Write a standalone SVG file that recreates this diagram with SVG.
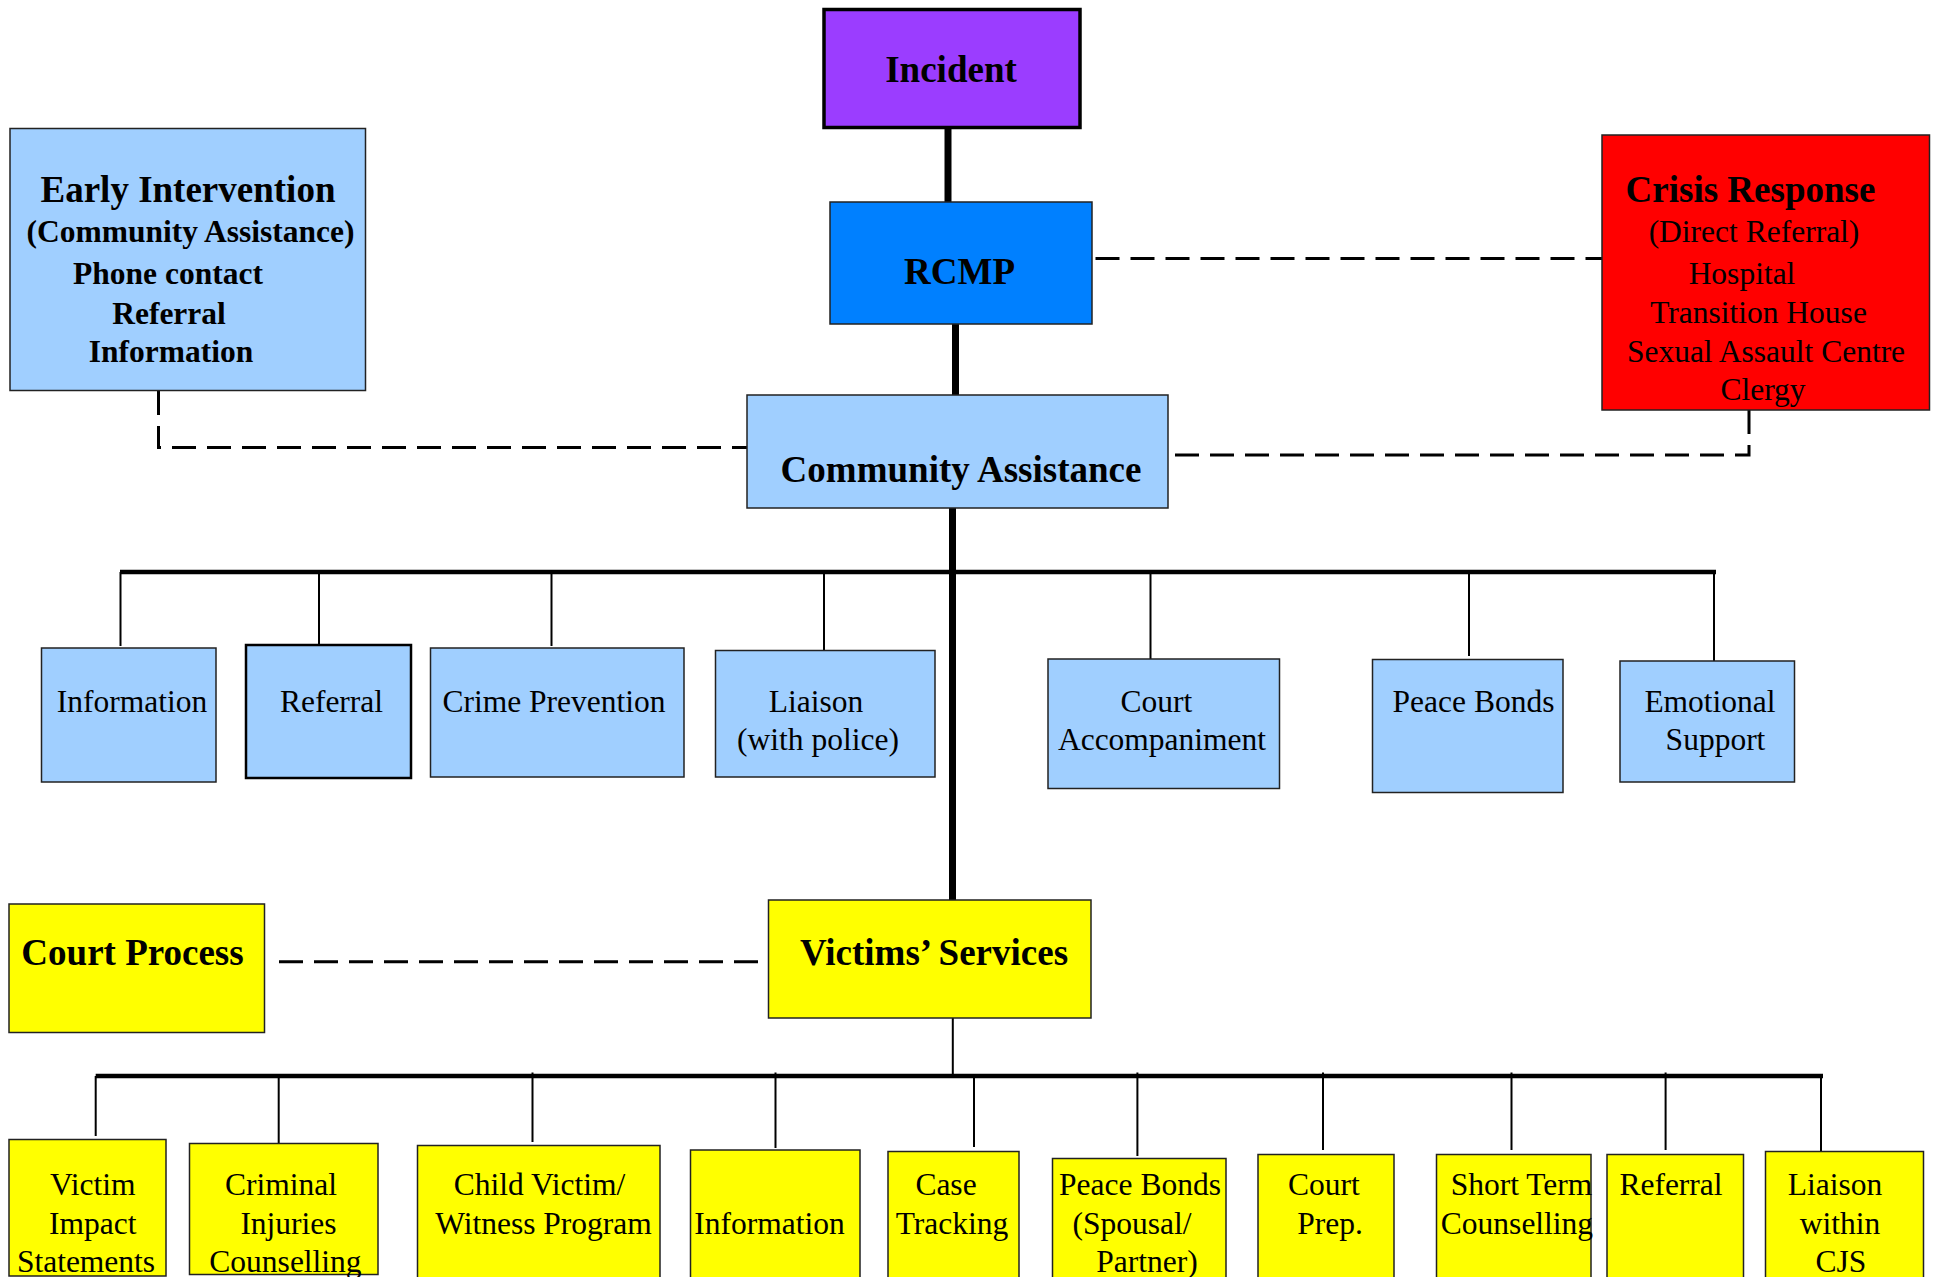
<svg xmlns="http://www.w3.org/2000/svg" width="1936" height="1277" viewBox="0 0 1936 1277">
<style>
rect{stroke:#222;stroke-width:1.5}
.lb{fill:#A0CFFF}
.yl{fill:#FFFF00}
text{font-family:"Liberation Serif","Times New Roman",serif;fill:#000;text-anchor:middle}
.t{font-size:31.5px}
.b{font-size:37px;font-weight:bold}
.bs{font-size:31.5px;font-weight:bold}
.thick{stroke:#000;stroke-width:7;fill:none}
.bus{stroke:#000;stroke-width:4.5;fill:none}
.thin{stroke:#000;stroke-width:2;fill:none}
.dash{stroke:#000;stroke-width:3;fill:none;stroke-dasharray:24 11}
</style>
<rect width="1936" height="1277" fill="#fff" style="stroke:none"/>
<g id="connectors">
<line class="thick" x1="948" y1="127" x2="948" y2="202"/>
<line class="thick" x1="955.5" y1="323" x2="955.5" y2="396"/>
<line class="thick" x1="952.5" y1="508" x2="952.5" y2="900"/>
<line class="bus" x1="120" y1="572" x2="1716" y2="572"/>
<line class="thin" x1="120.5" y1="572" x2="120.5" y2="646"/>
<line class="thin" x1="319" y1="572" x2="319" y2="645"/>
<line class="thin" x1="551.5" y1="572" x2="551.5" y2="646"/>
<line class="thin" x1="824" y1="572" x2="824" y2="651"/>
<line class="thin" x1="1150.5" y1="572" x2="1150.5" y2="659"/>
<line class="thin" x1="1469" y1="572" x2="1469" y2="656"/>
<line class="thin" x1="1714" y1="572" x2="1714" y2="661"/>
<line class="thin" x1="952.8" y1="1018" x2="952.8" y2="1076"/>
<line class="bus" x1="95.7" y1="1076" x2="1823" y2="1076"/>
<line class="thin" x1="95.7" y1="1076" x2="95.7" y2="1136"/>
<line class="thin" x1="278.7" y1="1076" x2="278.7" y2="1143"/>
<line class="thin" x1="532.5" y1="1072.5" x2="532.5" y2="1142"/>
<line class="thin" x1="775.5" y1="1072.5" x2="775.5" y2="1148"/>
<line class="thin" x1="974" y1="1076" x2="974" y2="1147"/>
<line class="thin" x1="1137.4" y1="1072.5" x2="1137.4" y2="1156"/>
<line class="thin" x1="1323" y1="1072.5" x2="1323" y2="1150"/>
<line class="thin" x1="1511.5" y1="1072.5" x2="1511.5" y2="1150"/>
<line class="thin" x1="1665.6" y1="1072.5" x2="1665.6" y2="1150"/>
<line class="thin" x1="1821" y1="1076" x2="1821" y2="1151"/>
<path class="dash" d="M158.5 391 V447.5 H747"/>
<path class="dash" d="M1095.5 258.5 H1602"/>
<path class="dash" d="M1749 410 V455 H1171"/>
<path class="dash" d="M279 961.7 H766"/>
</g>
<g id="incident">
<rect x="824" y="9.5" width="256" height="118" fill="#9B3DFF" style="stroke:#000;stroke-width:3.5"/>
<text class="b" x="951" y="82">Incident</text>
</g>
<g id="rcmp">
<rect x="830" y="202" width="262" height="122" fill="#0080FF"/>
<text class="b" x="959.5" y="284">RCMP</text>
</g>
<g id="early-intervention">
<rect class="lb" x="10" y="128.5" width="355.5" height="262"/>
<text class="b" x="188" y="202">Early Intervention</text>
<text class="bs" x="190.5" y="242">(Community Assistance)</text>
<text class="bs" x="168" y="284">Phone contact</text>
<text class="bs" x="169" y="323.5">Referral</text>
<text class="bs" x="171" y="362">Information</text>
</g>
<g id="crisis-response">
<rect x="1602" y="135" width="327.5" height="275" fill="#FF0000"/>
<text class="b" x="1750.5" y="202">Crisis Response</text>
<text class="t" x="1754" y="242">(Direct Referral)</text>
<text class="t" x="1742" y="284">Hospital</text>
<text class="t" x="1758.5" y="323">Transition House</text>
<text class="t" x="1766" y="362">Sexual Assault Centre</text>
<text class="t" x="1763" y="400">Clergy</text>
</g>
<g id="community-assistance">
<rect class="lb" x="747" y="395" width="421" height="113"/>
<text class="b" x="961" y="482">Community Assistance</text>
</g>
<g id="ca-information">
<rect class="lb" x="41.5" y="648" width="174.5" height="134"/>
<text class="t" x="132" y="712">Information</text>
</g>
<g id="ca-referral">
<rect class="lb" x="246" y="645" width="165" height="133" style="stroke:#000;stroke-width:2.5"/>
<text class="t" x="331.5" y="712">Referral</text>
</g>
<g id="ca-crime-prevention">
<rect class="lb" x="430.5" y="648" width="253.5" height="129"/>
<text class="t" x="554" y="712">Crime Prevention</text>
</g>
<g id="ca-liaison">
<rect class="lb" x="715.5" y="650.5" width="219.5" height="126.5"/>
<text class="t" x="816" y="712">Liaison</text>
<text class="t" x="818" y="750">(with police)</text>
</g>
<g id="ca-court-accompaniment">
<rect class="lb" x="1048" y="659" width="231.5" height="129.5"/>
<text class="t" x="1156.5" y="712">Court</text>
<text class="t" x="1162" y="750">Accompaniment</text>
</g>
<g id="ca-peace-bonds">
<rect class="lb" x="1372.5" y="659.5" width="190.5" height="133"/>
<text class="t" x="1473.5" y="712">Peace Bonds</text>
</g>
<g id="ca-emotional-support">
<rect class="lb" x="1620" y="661" width="174.5" height="121"/>
<text class="t" x="1710" y="712">Emotional</text>
<text class="t" x="1715.5" y="750">Support</text>
</g>
<g id="court-process">
<rect class="yl" x="9" y="904" width="255.5" height="128.5"/>
<text class="b" x="132.5" y="965">Court Process</text>
</g>
<g id="victims-services">
<rect class="yl" x="768.5" y="900" width="322.5" height="118"/>
<text class="b" x="934" y="965">Victims’ Services</text>
</g>
<g id="vs-victim-impact">
<rect class="yl" x="9" y="1139.5" width="157" height="136.5"/>
<text class="t" x="92.8" y="1195">Victim</text>
<text class="t" x="92.7" y="1233.5">Impact</text>
<text class="t" x="86" y="1272">Statements</text>
</g>
<g id="vs-criminal-injuries">
<rect class="yl" x="189.5" y="1143.5" width="188.5" height="131"/>
<text class="t" x="281" y="1195">Criminal</text>
<text class="t" x="288.5" y="1233.5">Injuries</text>
<text class="t" x="285.5" y="1272">Counselling</text>
</g>
<g id="vs-child-victim">
<rect class="yl" x="417.5" y="1145.5" width="242.5" height="145"/>
<text class="t" x="539.5" y="1195">Child Victim/</text>
<text class="t" x="543.5" y="1233.5">Witness Program</text>
</g>
<g id="vs-information">
<rect class="yl" x="690.5" y="1150" width="169.5" height="145"/>
<text class="t" x="769.5" y="1233.5">Information</text>
</g>
<g id="vs-case-tracking">
<rect class="yl" x="888" y="1151.5" width="131" height="145"/>
<text class="t" x="946" y="1195">Case</text>
<text class="t" x="952" y="1233.5">Tracking</text>
</g>
<g id="vs-peace-bonds">
<rect class="yl" x="1052.5" y="1158.5" width="173.5" height="145"/>
<text class="t" x="1140" y="1195">Peace Bonds</text>
<text class="t" x="1132" y="1233.5">(Spousal/</text>
<text class="t" x="1147" y="1272">Partner)</text>
</g>
<g id="vs-court-prep">
<rect class="yl" x="1258" y="1154.5" width="136" height="145"/>
<text class="t" x="1324" y="1195">Court</text>
<text class="t" x="1330" y="1233.5">Prep.</text>
</g>
<g id="vs-short-term-counselling">
<rect class="yl" x="1436.5" y="1154.5" width="154.5" height="145"/>
<text class="t" x="1521.5" y="1195">Short Term</text>
<text class="t" x="1517" y="1233.5">Counselling</text>
</g>
<g id="vs-referral">
<rect class="yl" x="1607" y="1154.5" width="136.5" height="145"/>
<text class="t" x="1671" y="1195">Referral</text>
</g>
<g id="vs-liaison-cjs">
<rect class="yl" x="1765.5" y="1151.5" width="158" height="145"/>
<text class="t" x="1835" y="1195">Liaison</text>
<text class="t" x="1840" y="1233.5">within</text>
<text class="t" x="1841" y="1272">CJS</text>
</g>
</svg>
